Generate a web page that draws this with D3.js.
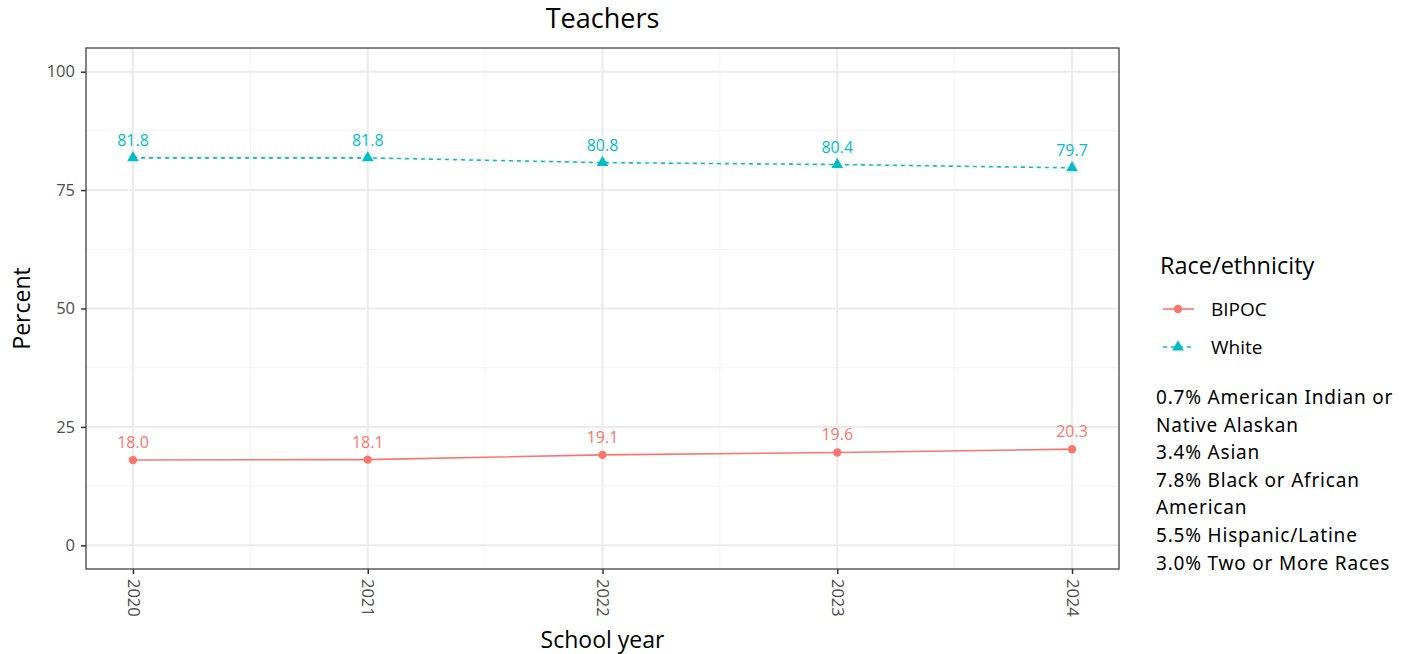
<!DOCTYPE html>
<html><head><meta charset="utf-8">
<script src="https://cdn.jsdelivr.net/npm/d3@7"></script>
<style>body{margin:0;background:#fff;}svg{display:block;}</style>
</head><body>
<svg id="c" width="1401" height="654"></svg>
<script>
const years = [2020, 2021, 2022, 2023, 2024];
const bipoc = [18.0, 18.1, 19.1, 19.6, 20.3];
const white = [81.8, 81.8, 80.8, 80.4, 79.7];
const yTicks = [0, 25, 50, 75, 100];
const seriesNames = ["BIPOC", "White"];
const seriesColors = ["#F8766D", "#00BFC4"];
const noteLines = ["0.7% American Indian or", "Native Alaskan", "3.4% Asian", "7.8% Black or African", "American", "5.5% Hispanic/Latine", "3.0% Two or More Races"];

const svg = d3.select("#c");
const L = 86, R = 1119, T = 48, B = 569;
const x = d3.scaleLinear().domain([2019.8, 2024.2]).range([L, R]);
const y = d3.scaleLinear().domain([-5, 105]).range([B, T]);
const font = "'Open Sans', sans-serif";

// grid
const g = svg.append("g");
const minorX = [2020.5, 2021.5, 2022.5, 2023.5];
const minorY = [12.5, 37.5, 62.5, 87.5];
g.selectAll(".mx").data(minorX).enter().append("line")
  .attr("x1", d => x(d)).attr("x2", d => x(d)).attr("y1", T).attr("y2", B)
  .attr("stroke", "#f3f3f3").attr("stroke-width", 1);
g.selectAll(".my").data(minorY).enter().append("line")
  .attr("x1", L).attr("x2", R).attr("y1", d => y(d)).attr("y2", d => y(d))
  .attr("stroke", "#f3f3f3").attr("stroke-width", 1);
g.selectAll(".Mx").data(years).enter().append("line")
  .attr("x1", d => x(d)).attr("x2", d => x(d)).attr("y1", T).attr("y2", B)
  .attr("stroke", "#ebebeb").attr("stroke-width", 2);
g.selectAll(".My").data(yTicks).enter().append("line")
  .attr("x1", L).attr("x2", R).attr("y1", d => y(d)).attr("y2", d => y(d))
  .attr("stroke", "#ebebeb").attr("stroke-width", 2);

// axes
const xAxis = d3.axisBottom(x).tickValues(years).tickFormat(d3.format("d")).tickSize(5).tickPadding(6);
const yAxis = d3.axisLeft(y).tickValues(yTicks).tickSize(5).tickPadding(6);
const gx = svg.append("g").attr("transform", `translate(0,${B})`).call(xAxis);
gx.select(".domain").remove();
gx.selectAll(".tick line").attr("stroke", "#333").attr("stroke-width", 1.5);
gx.selectAll(".tick text").attr("font-family", font).attr("font-size", 16.5).attr("fill", "#4d4d4d")
  .attr("transform", "rotate(90)").attr("text-anchor", "start").attr("x", 10).attr("y", 0).attr("dy", "0.35em");
const gy = svg.append("g").attr("transform", `translate(${L},0)`).call(yAxis);
gy.select(".domain").remove();
gy.selectAll(".tick line").attr("stroke", "#333").attr("stroke-width", 1.5);
gy.selectAll(".tick text").attr("font-family", font).attr("font-size", 16.5).attr("fill", "#4d4d4d");

// panel border
svg.append("rect").attr("x", L).attr("y", T).attr("width", R - L).attr("height", B - T)
  .attr("fill", "none").attr("stroke", "#333").attr("stroke-width", 1.2);

// series
const data = [bipoc, white];
const line = d3.line().x((d, i) => x(years[i])).y(d => y(d));
data.forEach((vals, s) => {
  const col = seriesColors[s];
  svg.append("path").datum(vals).attr("d", line).attr("fill", "none")
    .attr("stroke", col).attr("stroke-width", 1.6)
    .attr("stroke-dasharray", s === 1 ? "4,4" : null);
  const sym = d3.symbol().type(s === 0 ? d3.symbolCircle : d3.symbolTriangle).size(s === 0 ? 55 : 60);
  svg.selectAll(".p" + s).data(vals).enter().append("path")
    .attr("d", sym).attr("fill", col)
    .attr("transform", (d, i) => `translate(${x(years[i])},${y(d)})`);
  svg.selectAll(".l" + s).data(vals).enter().append("text")
    .attr("x", (d, i) => x(years[i])).attr("y", d => y(d) - 12)
    .attr("text-anchor", "middle").attr("font-family", font).attr("font-size", 16)
    .attr("fill", col).text(d => d.toFixed(1));
});

// title and axis titles
svg.append("text").attr("x", (L + R) / 2).attr("y", 28).attr("text-anchor", "middle")
  .attr("font-family", font).attr("font-size", 27).attr("fill", "#000").text("Teachers");
svg.append("text").attr("x", (L + R) / 2).attr("y", 648).attr("text-anchor", "middle")
  .attr("font-family", font).attr("font-size", 23).attr("fill", "#000").text("School year");
svg.append("text").attr("transform", `translate(30,${(T + B) / 2}) rotate(-90)`).attr("text-anchor", "middle")
  .attr("font-family", font).attr("font-size", 23).attr("fill", "#000").text("Percent");

// legend
svg.append("text").attr("x", 1160).attr("y", 274).attr("font-family", font).attr("font-size", 23.5)
  .attr("fill", "#000").text("Race/ethnicity");
seriesNames.forEach((nm, s) => {
  const ly = 309 + s * 38;
  const col = seriesColors[s];
  svg.append("line").attr("x1", 1163).attr("x2", 1194).attr("y1", ly).attr("y2", ly)
    .attr("stroke", col).attr("stroke-width", 1.6).attr("stroke-dasharray", s === 1 ? "4,4" : null);
  svg.append("path").attr("d", d3.symbol().type(s === 0 ? d3.symbolCircle : d3.symbolTriangle).size(s === 0 ? 55 : 60))
    .attr("fill", col).attr("transform", `translate(1178,${ly})`);
  svg.append("text").attr("x", 1211).attr("y", ly).attr("dy", "0.35em").attr("font-family", font)
    .attr("font-size", 19).attr("fill", "#000").text(nm);
});

// note
svg.append("g").selectAll("text").data(noteLines).enter().append("text")
  .attr("x", 1156).attr("y", (d, i) => 404 + i * 27.6).attr("font-family", "'Noto Sans', sans-serif")
  .attr("font-size", 19).attr("letter-spacing", 0.8).attr("fill", "#000").text(d => d);
</script>
</body></html>
